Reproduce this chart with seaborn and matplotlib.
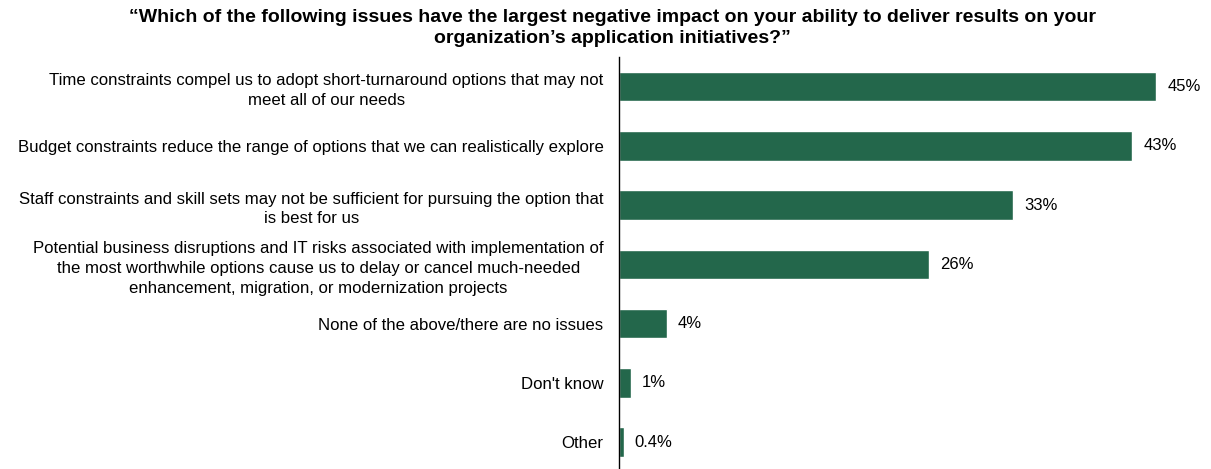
import matplotlib
matplotlib.use("Agg")
import matplotlib.pyplot as plt
import seaborn as sns
import pandas as pd

categories = [
    "Time constraints compel us to adopt short-turnaround options that may not\nmeet all of our needs",
    "Budget constraints reduce the range of options that we can realistically explore",
    "Staff constraints and skill sets may not be sufficient for pursuing the option that\nis best for us",
    "Potential business disruptions and IT risks associated with implementation of\nthe most worthwhile options cause us to delay or cancel much-needed\nenhancement, migration, or modernization projects",
    "None of the above/there are no issues",
    "Don't know",
    "Other",
]
values = [45, 43, 33, 26, 4, 1, 0.4]
value_labels = ["45%", "43%", "33%", "26%", "4%", "1%", "0.4%"]

title = ("\u201cWhich of the following issues have the largest negative impact on your ability to deliver results on your\n"
         "organization\u2019s application initiatives?\u201d")

sns.set_theme(style="white")
plt.rcParams["font.family"] = ["Liberation Sans", "DejaVu Sans"]

df = pd.DataFrame({"issue": categories, "share": values})

fig = plt.figure(figsize=(12.11, 4.69), dpi=100)
ax = fig.add_axes([0.511, -0.006, 0.489, 0.8845])

bar_color = "#23674B"
sns.barplot(data=df, y="issue", x="share", orient="h", color=bar_color,
            width=0.5, saturation=1, ax=ax)

ax.set_xlim(0, 49.6)
ax.set_ylim(6.5, -0.5)
ax.set_xlabel("")
ax.set_ylabel("")
ax.set_xticks([])

for lbl in ax.get_yticklabels():
    lbl.set_multialignment("center")
    lbl.set_fontsize(12.1)
    lbl.set_color("#000000")
    lbl.set_linespacing(1.4)
ax.tick_params(axis="y", length=0, pad=11)

for i, (v, t) in enumerate(zip(values, value_labels)):
    ax.annotate(t, xy=(v, i), xytext=(8, 0), textcoords="offset points",
                va="center", ha="left", fontsize=12, color="#000000")

for side in ["top", "right", "bottom"]:
    ax.spines[side].set_visible(False)
ax.spines["left"].set_color("#000000")
ax.spines["left"].set_linewidth(1.0)

fig.text(0.506, 0.981, title, ha="center", va="top", fontsize=14,
         fontweight="bold", linespacing=1.32, color="#000000")

fig.savefig("out.png", dpi=100, facecolor="white")
